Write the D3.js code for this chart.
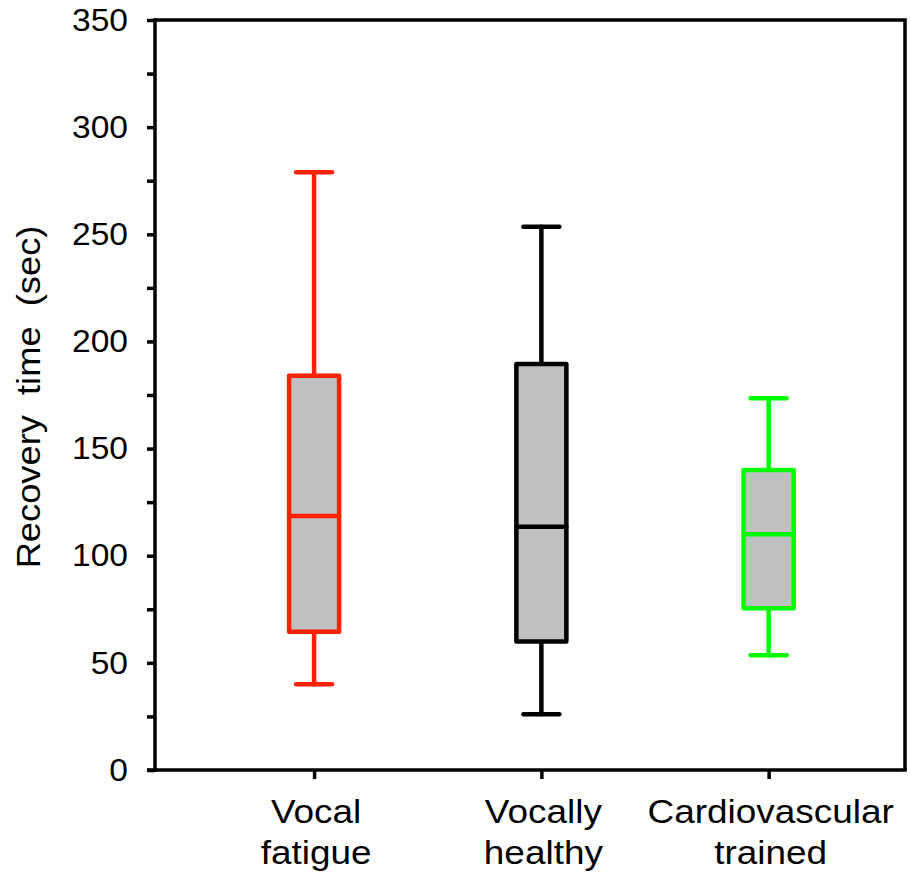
<!DOCTYPE html>
<html>
<head>
<meta charset="utf-8">
<script src="https://cdn.jsdelivr.net/npm/d3@7"></script>
<style>
  html, body { margin: 0; padding: 0; background: #fff; }
  svg { display: block; }
  text { font-family: "Liberation Sans", Arial, sans-serif; fill: #000; }
</style>
</head>
<body>
<svg id="chart" width="910" height="879"></svg>
<script>
// Recovery time per group (seconds): whisker ends, quartiles and medians
const categories = [["Vocal", "fatigue"], ["Vocally", "healthy"], ["Cardiovascular", "trained"]];
const groupPos = [1, 2, 3];
const whiskerLow = [40, 26, 53.5];
const q1 = [64.5, 60, 75.5];
const median = [118.5, 113.5, 110];
const q3 = [184, 189.5, 140];
const whiskerHigh = [279, 253.5, 173.5];
const groupColors = ["#ff2200", "#000000", "#00ff00"];
const yTicks = d3.range(0, 351, 25);
const yLabel = "Recovery  time  (sec)";

const svg = d3.select("#chart");
const plotLeft = 155, plotRight = 905, plotTop = 20, plotBottom = 770;

const x = d3.scaleLinear().domain([0.3, 3.6]).range([plotLeft, plotRight]);
const y = d3.scaleLinear().domain([0, 350]).range([plotBottom, plotTop]);

// Frame: top and right edges
svg.append("path")
  .attr("d", `M${plotLeft},${plotTop}H${plotRight}V${plotBottom}`)
  .attr("fill", "none").attr("stroke", "#000").attr("stroke-width", 3.5);

// Y axis
const yAxis = d3.axisLeft(y)
  .tickValues(yTicks)
  .tickSize(8)
  .tickPadding(19)
  .tickFormat(d => d % 50 === 0 ? d3.format("d")(d) : "");
const gy = svg.append("g").attr("transform", `translate(${plotLeft},0)`).call(yAxis);
gy.select(".domain").attr("stroke-width", 3.5).attr("d", `M0,${plotTop - 1.75}V${plotBottom + 1.75}`);
gy.selectAll(".tick line").attr("stroke-width", 3.5);
gy.selectAll(".tick text").each(function () {
  const t = d3.select(this);
  const tx = +t.attr("x");
  t.attr("x", 0).attr("transform", `translate(${tx},0) scale(1.05,1)`)
    .style("font-size", "32px");
});

// X axis with ticks at group centres
const xAxis = d3.axisBottom(x).tickValues(groupPos).tickSize(9).tickFormat("");
const gx = svg.append("g").attr("transform", `translate(0,${plotBottom})`).call(xAxis);
gx.select(".domain").attr("stroke-width", 3.5).attr("d", `M${plotLeft - 8},0H${plotRight + 1.75}`);
gx.selectAll(".tick line").attr("stroke-width", 3.5);

// Group labels on two lines
groupPos.forEach((p, i) => {
  categories[i].forEach((line, j) => {
    svg.append("text")
      .attr("transform", `translate(${x(p) + 2},${823 + j * 41}) scale(1.12,1)`)
      .attr("text-anchor", "middle")
      .style("font-size", "33px")
      .text(line);
  });
});

// Y axis title
svg.append("text")
  .attr("transform", `translate(40,${(plotTop + plotBottom) / 2 + 2}) rotate(-90) scale(1.1,1)`)
  .attr("text-anchor", "middle")
  .style("font-size", "33px")
  .style("white-space", "pre")
  .text(yLabel);

// Box plots
const boxW = 50, capW = 36, sw = 4.5;
groupPos.forEach((p, i) => {
  const cx = x(p), c = groupColors[i];
  const g = svg.append("g")
    .attr("stroke", c).attr("stroke-width", sw)
    .attr("stroke-linecap", "round").attr("stroke-linejoin", "round");
  // whiskers
  g.append("line").attr("x1", cx).attr("x2", cx).attr("y1", y(q3[i])).attr("y2", y(whiskerHigh[i]));
  g.append("line").attr("x1", cx).attr("x2", cx).attr("y1", y(q1[i])).attr("y2", y(whiskerLow[i]));
  g.append("line").attr("x1", cx - capW / 2).attr("x2", cx + capW / 2).attr("y1", y(whiskerHigh[i])).attr("y2", y(whiskerHigh[i]));
  g.append("line").attr("x1", cx - capW / 2).attr("x2", cx + capW / 2).attr("y1", y(whiskerLow[i])).attr("y2", y(whiskerLow[i]));
  // box
  g.append("rect")
    .attr("x", cx - boxW / 2).attr("width", boxW)
    .attr("y", y(q3[i])).attr("height", y(q1[i]) - y(q3[i]))
    .attr("fill", "#c0c0c0");
  // median
  g.append("line").attr("x1", cx - boxW / 2).attr("x2", cx + boxW / 2)
    .attr("y1", y(median[i])).attr("y2", y(median[i]));
});
</script>
</body>
</html>
